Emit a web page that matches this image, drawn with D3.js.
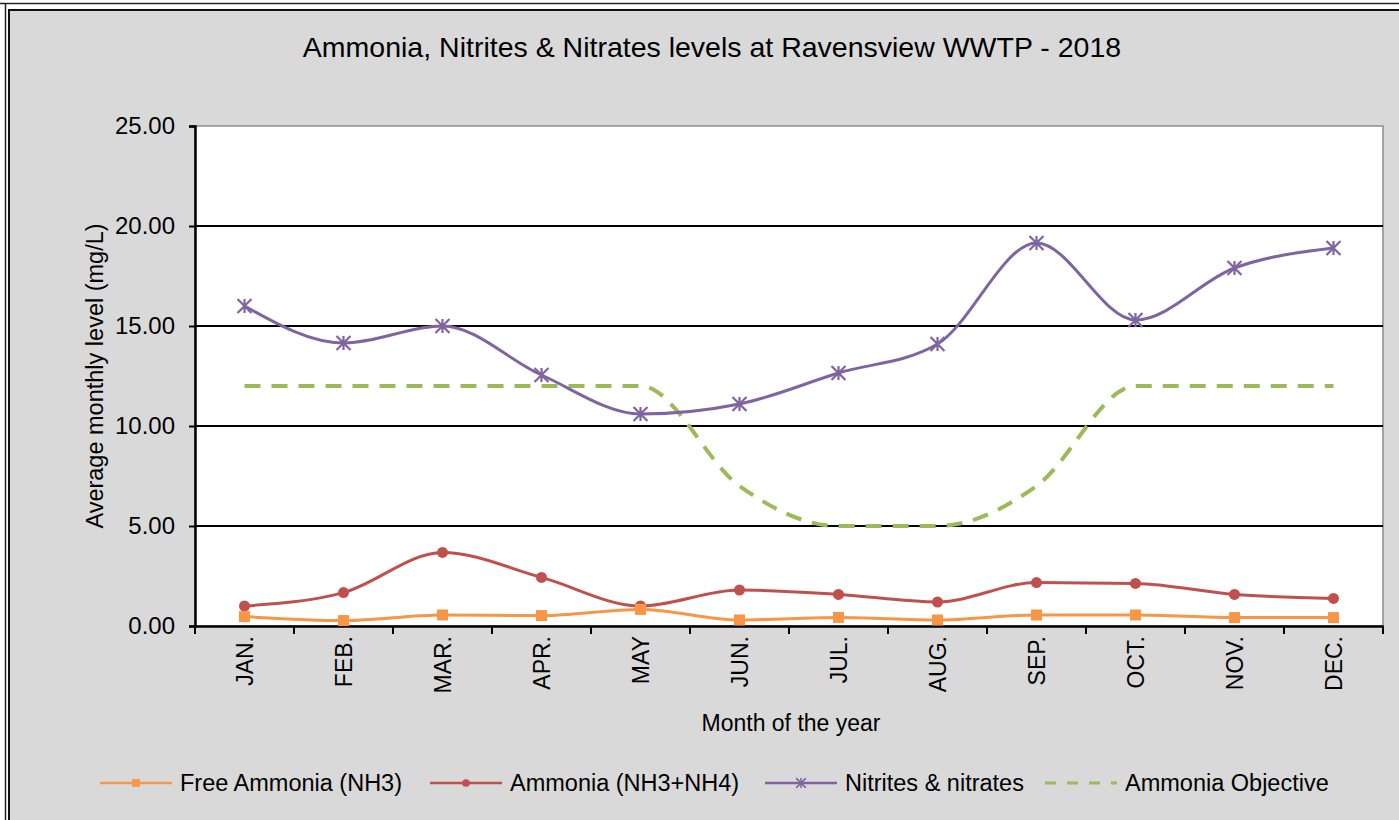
<!DOCTYPE html>
<html>
<head>
<meta charset="utf-8">
<script src="https://cdn.jsdelivr.net/npm/d3@7"></script>
<style>
  body { margin: 0; background: #fff; }
  svg { display: block; font-family: "Liberation Sans", Arial, sans-serif; }
</style>
</head>
<body>
<div class="vis-chart"></div>
<script>
const months = ['JAN.', 'FEB.', 'MAR.', 'APR.', 'MAY', 'JUN.', 'JUL.', 'AUG.', 'SEP.', 'OCT.', 'NOV.', 'DEC.'];
const freeAmmonia = [0.47, 0.27, 0.55, 0.52, 0.83, 0.30, 0.43, 0.30, 0.55, 0.55, 0.42, 0.42];
const ammonia = [1.00, 1.67, 3.68, 2.43, 1.00, 1.80, 1.58, 1.20, 2.17, 2.13, 1.58, 1.38];
const nitrites = [16.0, 14.15, 15.0, 12.55, 10.6, 11.1, 12.65, 14.1, 19.15, 15.3, 17.9, 18.9];
const objective = [12, 12, 12, 12, 12, 7, 5, 5, 7, 12, 12, 12];
const yTicks = [0, 5, 10, 15, 20, 25];

const series = [
    { label: 'Free Ammonia (NH3)', values: freeAmmonia, color: '#f79646', marker: 'square', lx: 100 },
    { label: 'Ammonia (NH3+NH4)', values: ammonia, color: '#c0504d', marker: 'circle', lx: 430 },
    { label: 'Nitrites & nitrates', values: nitrites, color: '#8064a2', marker: 'star', lx: 765 },
    { label: 'Ammonia Objective', values: objective, color: '#9bbb59', marker: 'none', dash: '16,11', lx: 1045 }
];

const W = 1399, H = 820;
const plot = { left: 195, right: 1383, top: 126, bottom: 626 };

const svg = d3.select('.vis-chart').append('svg')
    .attr('width', W)
    .attr('height', H);

// page + chart frame
svg.append('line').attr('x1', 0).attr('x2', W).attr('y1', 3.5).attr('y2', 3.5)
    .attr('stroke', '#222').attr('stroke-width', 1.5);
svg.append('line').attr('x1', 5.5).attr('x2', 5.5).attr('y1', 3).attr('y2', H)
    .attr('stroke', '#222').attr('stroke-width', 1.5);
svg.append('rect').attr('x', 9).attr('y', 10).attr('width', W + 20).attr('height', H + 20)
    .attr('fill', '#d9d9d9').attr('stroke', '#111').attr('stroke-width', 2);

let x = d3.scaleBand()
    .domain(months)
    .range([plot.left, plot.right]);
let y = d3.scaleLinear()
    .domain([0, 25])
    .range([plot.bottom, plot.top]);
const cx = d => x(d) + x.bandwidth() / 2;

// plot area
svg.append('rect')
    .attr('x', plot.left).attr('y', plot.top)
    .attr('width', plot.right - plot.left).attr('height', plot.bottom - plot.top)
    .attr('fill', '#fff').attr('stroke', '#8c8c8c').attr('stroke-width', 1.5);

// gridlines
svg.append('g')
    .selectAll('line')
    .data(yTicks.filter(t => t > 0 && t < 25))
    .enter().append('line')
    .attr('x1', plot.left).attr('x2', plot.right)
    .attr('y1', d => y(d)).attr('y2', d => y(d))
    .attr('stroke', '#000').attr('stroke-width', 2);

// y axis
const yAxis = svg.append('g')
    .attr('transform', 'translate(' + plot.left + ',0)')
    .call(d3.axisLeft(y).tickValues(yTicks).tickFormat(d3.format('.2f')).tickSize(6).tickPadding(14));
yAxis.select('.domain').attr('stroke', '#000').attr('stroke-width', 2.5);
yAxis.selectAll('.tick line').attr('stroke', '#000').attr('stroke-width', 2);
yAxis.selectAll('text').attr('font-size', 24).attr('fill', '#000');

// x axis
const xAxis = svg.append('g')
    .attr('transform', 'translate(0,' + plot.bottom + ')')
    .call(d3.axisBottom(x).tickSize(0).tickSizeOuter(0));
xAxis.select('.domain').attr('stroke', '#000').attr('stroke-width', 2.5);
xAxis.selectAll('.tick text')
    .attr('font-size', 23).attr('fill', '#000')
    .attr('text-anchor', 'end')
    .attr('transform', 'rotate(-90)')
    .attr('x', -10).attr('y', 0).attr('dy', '0.36em');
svg.append('g')
    .selectAll('line')
    .data(d3.range(months.length + 1))
    .enter().append('line')
    .attr('x1', i => plot.left + i * x.step()).attr('x2', i => plot.left + i * x.step())
    .attr('y1', plot.bottom).attr('y2', plot.bottom + 8)
    .attr('stroke', '#000').attr('stroke-width', 2);

// axis titles
svg.append('text')
    .attr('x', 712).attr('y', 57)
    .attr('text-anchor', 'middle').attr('font-size', 28.5).attr('fill', '#000')
    .text('Ammonia, Nitrites & Nitrates levels at Ravensview WWTP - 2018');
svg.append('text')
    .attr('transform', 'translate(103,376) rotate(-90)')
    .attr('text-anchor', 'middle').attr('font-size', 23.5).attr('fill', '#000')
    .text('Average monthly level (mg/L)');
svg.append('text')
    .attr('x', 791).attr('y', 731)
    .attr('text-anchor', 'middle').attr('font-size', 23).attr('fill', '#000')
    .text('Month of the year');

// marker drawing
const drawMarker = (g, type, color) => {
    if (type === 'square') {
        g.append('rect').attr('x', -5.5).attr('y', -5.5).attr('width', 11).attr('height', 11).attr('fill', color);
    } else if (type === 'circle') {
        g.append('circle').attr('r', 5.5).attr('fill', color);
    } else if (type === 'star') {
        g.append('path').attr('d', 'M-7,-7L7,7M-7,7L7,-7M0,-7L0,7')
            .attr('stroke', color).attr('stroke-width', 2.2).attr('fill', 'none');
    }
};

const line = d3.line()
    .x((d, i) => cx(months[i]))
    .y(d => y(d))
    .curve(d3.curveMonotoneX);

// series, drawn back to front
series.slice().reverse().forEach(s => {
    const g = svg.append('g');
    g.append('path')
        .attr('d', line(s.values))
        .attr('fill', 'none')
        .attr('stroke', s.color)
        .attr('stroke-width', s.dash ? 4 : 3)
        .attr('stroke-dasharray', s.dash || null);
    s.values.forEach((v, i) => {
        const m = g.append('g').attr('transform', 'translate(' + cx(months[i]) + ',' + y(v) + ')');
        drawMarker(m, s.marker, s.color);
    });
});

// legend
const legend = svg.append('g').attr('transform', 'translate(0,783)');
series.forEach(s => {
    const g = legend.append('g');
    g.append('line')
        .attr('x1', s.lx).attr('x2', s.lx + 72)
        .attr('stroke', s.color).attr('stroke-width', s.dash ? 3 : 2.5)
        .attr('stroke-dasharray', s.dash ? '11,11' : null);
    const m = g.append('g').attr('transform', 'translate(' + (s.lx + 36) + ',0)');
    drawMarker(m, s.marker, s.color);
    m.attr('transform', 'translate(' + (s.lx + 36) + ',0) scale(0.7)');
    g.append('text')
        .attr('x', s.lx + 80).attr('dy', '0.36em')
        .attr('font-size', 23.5).attr('fill', '#000')
        .text(s.label);
});
</script>
</body>
</html>
